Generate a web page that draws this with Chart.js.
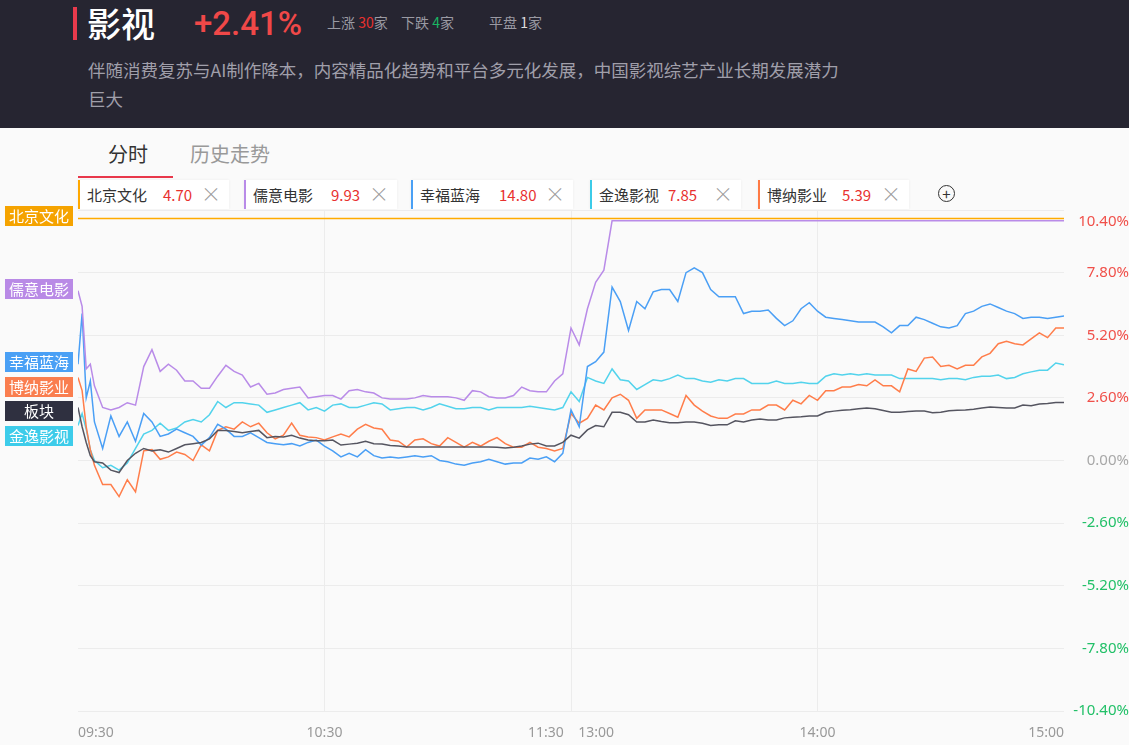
<!DOCTYPE html>
<html>
<head>
<meta charset="utf-8">
<script src="https://cdn.jsdelivr.net/npm/chart.js@4.4.1/dist/chart.umd.min.js"></script>
<style>
  html, body { margin: 0; padding: 0; }
  body {
    width: 1129px; height: 745px; position: relative; overflow: hidden;
    background: #fafafa;
    font-family: "Noto Sans CJK SC", "Noto Sans", sans-serif;
  }
  .hdr { position: absolute; left: 0; top: 0; width: 1129px; height: 128px; background: #262531; }
  .bar { position: absolute; left: 73px; top: 7px; width: 4px; height: 33px; background: #e83a4c; }
  .title { position: absolute; left: 87px; top: 1px; font-size: 34px; line-height: 44px; color: #fff; font-weight: 500; }
  .pct { position: absolute; left: 194px; top: 2px; font-family: Roboto, sans-serif; font-size: 33px; line-height: 44px; color: #f04848; font-weight: 500; }
  .stat { position: absolute; top: 12px; font-size: 14px; line-height: 20px; color: #9a9aa3; }
  .desc { position: absolute; left: 88px; top: 55px; font-size: 17.5px; line-height: 29px; color: #a09faa; }
  .tab { position: absolute; top: 141px; font-size: 20px; line-height: 26px; }
  .uline { position: absolute; left: 78px; top: 176px; width: 95px; height: 2px; background: #e8374a; }
  .lg {
    position: absolute; top: 180px; height: 29px; line-height: 29px; font-size: 15px;
    background: #fff; border-left: 2px solid; box-shadow: 0 0 3px rgba(0,0,0,0.06);
  }
  .lg .nm { position: absolute; left: 7px; color: #333; }
  .lg .vl { position: absolute; color: #e8312f; }
  .lg .x { position: absolute; right: 8px; top: -1px; color: #999; font-size: 20px; font-weight: 300; }
  .plus {
    position: absolute; left: 938px; top: 185px; width: 15px; height: 15px;
    border: 1.5px solid #333; border-radius: 50%; text-align: center;
    font-size: 15px; line-height: 15px; color: #333;
  }
  #wrap { position: absolute; left: 0; top: 200px; width: 1129px; height: 545px; }
  .tag {
    position: absolute; left: 5px; width: 68px; height: 20px; line-height: 20px;
    color: #fff; font-size: 15px; text-align: center;
  }
</style>
</head>
<body>
<div class="hdr">
  <div class="bar"></div>
  <div class="title">影视</div>
  <div class="pct">+2.41%</div>
  <div class="stat" style="left:327px">上涨 <span style="color:#e8312f">30</span>家</div>
  <div class="stat" style="left:401px">下跌 <span style="color:#19b663">4</span>家</div>
  <div class="stat" style="left:489px">平盘 <span style="color:#ddd">1</span>家</div>
  <div class="desc">伴随消费复苏与AI制作降本，内容精品化趋势和平台多元化发展，中国影视综艺产业长期发展潜力<br>巨大</div>
</div>

<div class="tab" style="left:108px;color:#333">分时</div>
<div class="tab" style="left:190px;color:#999">历史走势</div>
<div class="uline"></div>

<div class="lg" style="left:78px;width:149px;border-color:#ffa800"><span class="nm">北京文化</span><span class="vl" style="left:83px">4.70</span><span class="x">×</span></div>
<div class="lg" style="left:244px;width:151px;border-color:#b98be8"><span class="nm">儒意电影</span><span class="vl" style="left:85px">9.93</span><span class="x">×</span></div>
<div class="lg" style="left:411px;width:160px;border-color:#4aa0f5"><span class="nm">幸福蓝海</span><span class="vl" style="left:86px">14.80</span><span class="x">×</span></div>
<div class="lg" style="left:590px;width:149px;border-color:#3ccbe8"><span class="nm">金逸影视</span><span class="vl" style="left:76px">7.85</span><span class="x">×</span></div>
<div class="lg" style="left:758px;width:149px;border-color:#ff7a45"><span class="nm">博纳影业</span><span class="vl" style="left:82px">5.39</span><span class="x">×</span></div>
<div class="plus">+</div>

<div id="wrap"><canvas id="chart"></canvas></div>

<script>
// minute index from 09:30 (0) to 15:00 (240), lunch break removed
// first minutes kept at 1-minute steps, then every 2 minutes
const minutes = [0, 1, 2, 3, 4];
for (let m = 6; m <= 240; m += 2) minutes.push(m);

const xTickVals = [0, 60, 120, 180, 240];
const xTickLabels = ["09:30", "10:30", "11:30    13:00", "14:00", "15:00"];
const yTickVals = [-10.4, -7.8, -5.2, -2.6, 0, 2.6, 5.2, 7.8, 10.4];

const names = ["板块", "北京文化", "儒意电影", "幸福蓝海", "博纳影业", "金逸影视"];
const lineColors = ["#555560", "#ffab00", "#b98be8", "#4a9ff5", "#ff7d4a", "#52d3ec"];
const tagColors = ["#2f3040", "#f5a300", "#b98ae6", "#4aa0f5", "#fa7e4f", "#3dccea"];

// % change vs previous close
const bankuai = [
  2.2, 1.4, 0.75, 0.2, -0.05,
  -0.1, -0.4, -0.5, 0.0, 0.3, 0.5, 0.4,
  0.45, 0.35, 0.5, 0.65, 0.7, 0.75, 0.9, 1.25, 1.25, 1.2,
  1.15, 1.2, 1.25, 0.95, 1.0, 0.98, 1.05, 0.93, 0.85, 0.82,
  0.82, 0.85, 0.64, 0.68, 0.72, 0.8, 0.7, 0.68, 0.62, 0.6,
  0.56, 0.56, 0.56, 0.56, 0.56, 0.56, 0.56, 0.56, 0.56, 0.56,
  0.56, 0.55, 0.52, 0.55, 0.6, 0.68, 0.72, 0.6, 0.6, 0.75,
  1.05, 0.93, 1.27, 1.45, 1.4, 2.0, 2.0, 1.9, 1.6, 1.6,
  1.68, 1.62, 1.57, 1.57, 1.6, 1.6, 1.55, 1.45, 1.48, 1.48,
  1.65, 1.6, 1.68, 1.72, 1.68, 1.68, 1.77, 1.8, 1.82, 1.85,
  1.85, 2.0, 2.05, 2.09, 2.11, 2.15, 2.18, 2.15, 2.08, 2.0,
  2.0, 2.03, 2.05, 2.05, 1.98, 2.0, 2.07, 2.09, 2.1, 2.13,
  2.18, 2.22, 2.2, 2.18, 2.18, 2.3, 2.27, 2.35, 2.37, 2.41, 2.41
];
const bjwh = [
  10.05, 10.05, 10.05, 10.05, 10.05,
  10.05, 10.05, 10.05, 10.05, 10.05, 10.05, 10.05,
  10.05, 10.05, 10.05, 10.05, 10.05, 10.05, 10.05, 10.05, 10.05, 10.05,
  10.05, 10.05, 10.05, 10.05, 10.05, 10.05, 10.05, 10.05, 10.05, 10.05,
  10.05, 10.05, 10.05, 10.05, 10.05, 10.05, 10.05, 10.05, 10.05, 10.05,
  10.05, 10.05, 10.05, 10.05, 10.05, 10.05, 10.05, 10.05, 10.05, 10.05,
  10.05, 10.05, 10.05, 10.05, 10.05, 10.05, 10.05, 10.05, 10.05, 10.05,
  10.05, 10.05, 10.05, 10.05, 10.05, 10.05, 10.05, 10.05, 10.05, 10.05,
  10.05, 10.05, 10.05, 10.05, 10.05, 10.05, 10.05, 10.05, 10.05, 10.05,
  10.05, 10.05, 10.05, 10.05, 10.05, 10.05, 10.05, 10.05, 10.05, 10.05,
  10.05, 10.05, 10.05, 10.05, 10.05, 10.05, 10.05, 10.05, 10.05, 10.05,
  10.05, 10.05, 10.05, 10.05, 10.05, 10.05, 10.05, 10.05, 10.05, 10.05,
  10.05, 10.05, 10.05, 10.05, 10.05, 10.05, 10.05, 10.05, 10.05, 10.05, 10.05
];
const ryyy = [
  7.05, 6.4, 3.8, 4.0, 3.1,
  2.2, 2.1, 2.2, 2.4, 2.3, 3.9, 4.6,
  3.7, 4.0, 3.75, 3.3, 3.3, 3.0, 3.0, 3.5, 3.95, 3.7,
  3.55, 3.05, 3.2, 2.75, 2.8, 2.95, 3.0, 3.05, 2.6, 2.65,
  2.7, 2.7, 2.55, 2.9, 2.95, 2.85, 2.8, 2.6, 2.55, 2.55,
  2.55, 2.6, 2.7, 2.65, 2.65, 2.65, 2.6, 2.5, 2.9, 2.85,
  2.65, 2.6, 2.6, 2.7, 3.05, 2.9, 2.85, 2.85, 3.3, 3.6,
  5.5, 4.8, 6.3, 7.4, 7.9, 9.95, 9.95, 9.95, 9.95, 9.95,
  9.95, 9.95, 9.95, 9.95, 9.95, 9.95, 9.95, 9.95, 9.95, 9.95,
  9.95, 9.95, 9.95, 9.95, 9.95, 9.95, 9.95, 9.95, 9.95, 9.95,
  9.95, 9.95, 9.95, 9.95, 9.95, 9.95, 9.95, 9.95, 9.95, 9.95,
  9.95, 9.95, 9.95, 9.95, 9.95, 9.95, 9.95, 9.95, 9.95, 9.95,
  9.95, 9.95, 9.95, 9.95, 9.95, 9.95, 9.95, 9.95, 9.95, 9.95, 9.95
];
const xflh = [
  4.0, 6.1, 2.6, 3.3, 1.6,
  0.5, 1.85, 1.0, 1.6, 0.8, 1.95, 1.6,
  1.0, 1.1, 1.3, 1.15, 1.0, 0.64, 0.95, 1.5, 1.3, 1.0,
  1.0, 1.15, 0.95, 0.75, 0.7, 0.65, 0.7, 0.6, 0.75, 0.85,
  0.6, 0.4, 0.15, 0.3, 0.15, 0.45, 0.2, 0.1, 0.15, 0.1,
  0.15, 0.2, 0.15, 0.2, 0.0, -0.05, -0.15, -0.2, -0.1, -0.05,
  0.05, -0.05, -0.15, -0.1, -0.1, 0.1, 0.05, 0.15, -0.05, 0.3,
  2.1, 1.4, 3.9, 4.1, 4.5, 7.2, 6.6, 5.4, 6.6, 6.3,
  7.0, 7.1, 7.1, 6.6, 7.8, 8.0, 7.8, 7.1, 6.8, 6.8,
  6.8, 6.1, 6.2, 6.2, 6.25, 5.9, 5.6, 5.8, 6.3, 6.55,
  6.2, 5.95, 5.9, 5.85, 5.8, 5.75, 5.75, 5.75, 5.55, 5.3,
  5.6, 5.6, 5.95, 5.85, 5.7, 5.55, 5.5, 5.6, 6.1, 6.2,
  6.4, 6.5, 6.35, 6.2, 6.1, 5.9, 5.95, 5.95, 5.9, 5.95, 6.0
];
const bnyy = [
  3.45, 2.9, 1.4, 0.45, -0.2,
  -1.0, -1.0, -1.5, -0.8, -1.3, 0.4, 0.45,
  0.05, 0.15, 0.35, 0.25, 0.0, 0.65, 0.4, 1.25, 1.4, 1.3,
  1.6, 1.4, 1.55, 1.15, 0.9, 1.05, 1.55, 1.05, 0.98, 0.95,
  0.85, 0.98, 1.1, 0.98, 1.3, 1.5, 1.35, 1.3, 0.85, 0.8,
  0.56, 0.85, 0.9, 0.7, 0.6, 0.95, 0.75, 0.55, 0.75, 0.6,
  0.8, 0.95, 0.7, 0.55, 0.55, 0.75, 0.55, 0.5, 0.4, 0.5,
  1.95, 1.55, 1.75, 2.3, 2.1, 2.6, 2.75, 2.5, 1.75, 2.1,
  2.1, 2.1, 1.95, 1.8, 2.7, 2.3, 2.05, 1.85, 1.75, 1.75,
  1.93, 1.93, 2.1, 2.1, 2.3, 2.3, 2.1, 2.5, 2.35, 2.7,
  2.5, 2.9, 2.9, 3.05, 3.05, 3.15, 3.1, 3.35, 3.1, 3.1,
  2.85, 3.8, 3.7, 4.25, 4.3, 3.9, 3.95, 3.8, 3.95, 3.95,
  4.3, 4.45, 4.85, 4.95, 4.85, 4.8, 5.05, 5.3, 5.1, 5.5, 5.5
];
const jyys = [
  1.45, 1.95, 1.3, 0.45, 0.0,
  -0.3, -0.2, -0.4, -0.1, 0.5, 1.1, 1.25,
  1.55, 1.25, 1.35, 1.6, 1.7, 1.6, 1.9, 2.45, 2.2, 2.4,
  2.4, 2.35, 2.3, 2.0, 2.1, 2.2, 2.3, 2.4, 2.1, 2.2,
  2.05, 2.3, 2.35, 2.2, 2.2, 2.3, 2.4, 2.35, 2.1, 2.15,
  2.2, 2.2, 2.1, 2.2, 2.35, 2.25, 2.15, 2.15, 2.2, 2.2,
  2.1, 2.2, 2.2, 2.2, 2.2, 2.25, 2.2, 2.15, 2.1, 2.2,
  2.85, 2.45, 3.45, 3.3, 3.2, 3.8, 3.35, 3.3, 2.95, 3.15,
  3.35, 3.3, 3.4, 3.55, 3.4, 3.4, 3.3, 3.25, 3.35, 3.3,
  3.4, 3.4, 3.2, 3.2, 3.2, 3.3, 3.2, 3.2, 3.25, 3.2,
  3.2, 3.5, 3.6, 3.55, 3.6, 3.55, 3.6, 3.55, 3.55, 3.55,
  3.4, 3.4, 3.4, 3.4, 3.4, 3.35, 3.4, 3.4, 3.35, 3.45,
  3.5, 3.5, 3.55, 3.4, 3.45, 3.6, 3.68, 3.75, 3.75, 4.05, 3.97
];

const seriesValues = [bankuai, bjwh, ryyy, xflh, bnyy, jyys];

function upDownColor(v) {
  if (v > 0.001) return "#f0504a";
  if (v < -0.001) return "#22c068";
  return "#a8a8a8";
}

const datasets = seriesValues.map((vals, k) => ({
  label: names[k],
  data: minutes.map((m, i) => ({ x: m, y: vals[i] })),
  borderColor: lineColors[k],
  borderWidth: 1.5,
  pointRadius: 0,
  tension: 0,
  fill: false,
}));

const chart = new Chart(document.getElementById("chart"), {
  type: "line",
  data: { datasets: datasets },
  options: {
    responsive: true,
    maintainAspectRatio: false,
    animation: false,
    layout: { padding: { left: 78, top: 10, right: 0, bottom: 0 } },
    plugins: { legend: { display: false }, tooltip: { enabled: false } },
    scales: {
      x: {
        type: "linear",
        min: 0,
        max: 240,
        afterBuildTicks: (s) => { s.ticks = xTickVals.map((v) => ({ value: v })); },
        afterFit: (s) => { s.height = 34; s.paddingLeft = 0; s.paddingRight = 0; },
        ticks: {
          callback: (v) => xTickLabels[xTickVals.indexOf(v)],
          align: "inner",
          maxRotation: 0,
          autoSkip: false,
          padding: 14,
          color: "#999",
          font: { family: "Noto Sans", size: 14 },
        },
        grid: {
          drawTicks: false,
          color: (c) => (c.tick && (c.tick.value === 0 || c.tick.value === 240)) ? "rgba(0,0,0,0)" : "#ececec",
        },
        border: { display: false },
      },
      y: {
        position: "right",
        min: -10.4,
        max: 10.4,
        afterBuildTicks: (s) => { s.ticks = yTickVals.map((v) => ({ value: v })); },
        // fixed width, and no extra room for the top/bottom labels
        afterFit: (s) => { s.width = 65; s.paddingTop = 0; s.paddingBottom = 0; },
        ticks: {
          callback: (v) => {
            const t = v.toFixed(2) + "%";
            return v === 10.4 ? ["", t] : t;
          },
          crossAlign: "far",
          padding: 8,
          color: (c) => upDownColor(c.tick.value),
          font: (c) => ({ family: "Noto Sans", size: 15, lineHeight: c.tick && c.tick.value === 10.4 ? 1.6 : 1.2 }),
        },
        grid: { drawTicks: false, color: "#ececec" },
        border: { display: false },
      },
    },
  },
});

// name tags on the left, at each line's opening value, pushed apart so they don't overlap
const wrap = document.getElementById("wrap");
const yScale = chart.scales.y;
const order = seriesValues.map((v, k) => k).sort((a, b) => seriesValues[b][0] - seriesValues[a][0]);
let lastY = -100;
order.forEach((k) => {
  let cy = yScale.getPixelForValue(seriesValues[k][0]) - 2;
  if (cy < 15) cy = 15;
  if (cy < lastY + 24.5) cy = lastY + 24.5;
  lastY = cy;
  const tag = document.createElement("div");
  tag.className = "tag";
  tag.style.top = (cy - 10) + "px";
  tag.style.background = tagColors[k];
  tag.textContent = names[k];
  wrap.appendChild(tag);
});
</script>
</body>
</html>
